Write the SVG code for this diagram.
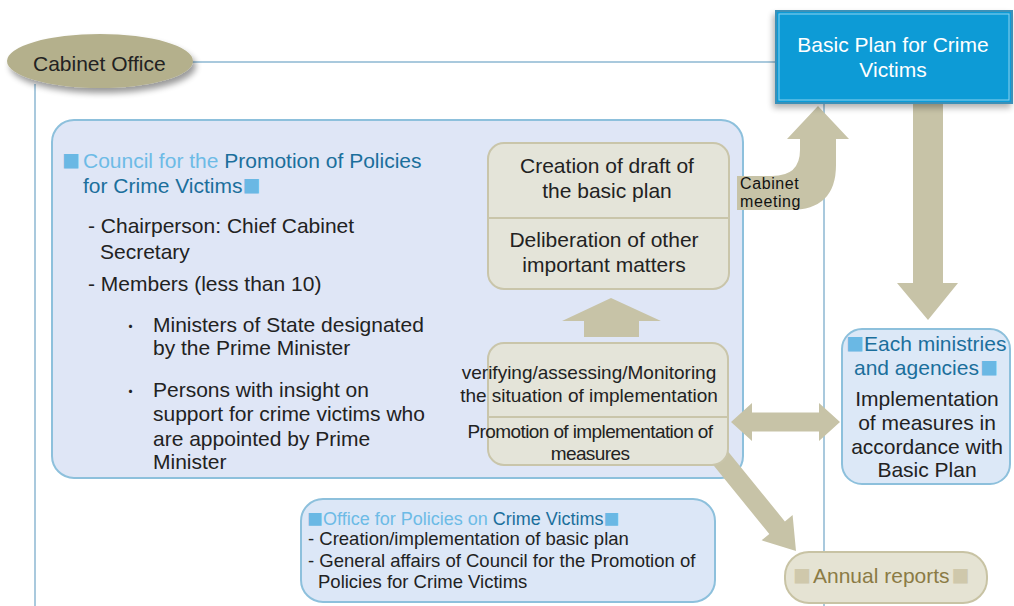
<svg xmlns="http://www.w3.org/2000/svg" width="1014" height="606" viewBox="0 0 1014 606">
<defs>
<filter id="sh" x="-20%" y="-20%" width="140%" height="150%">
<feGaussianBlur in="SourceAlpha" stdDeviation="3"/>
<feOffset dx="3" dy="5" result="b"/>
<feComponentTransfer><feFuncA type="linear" slope="0.4"/></feComponentTransfer>
<feMerge><feMergeNode/><feMergeNode in="SourceGraphic"/></feMerge>
</filter>
<filter id="sh2" x="-10%" y="-10%" width="120%" height="130%">
<feGaussianBlur in="SourceAlpha" stdDeviation="3"/>
<feOffset dx="-2" dy="4" result="b"/>
<feComponentTransfer><feFuncA type="linear" slope="0.3"/></feComponentTransfer>
<feMerge><feMergeNode/><feMergeNode in="SourceGraphic"/></feMerge>
</filter>
</defs>
<style>
text{font-family:"Liberation Sans",Arial,sans-serif;font-size:21px;fill:#222}
.lt{fill:#6dbbe6}
.dk{fill:#1b6f9c}
.sq{fill:#6ab8e4;font-family:"Noto Sans CJK JP","DejaVu Sans",sans-serif;font-size:18px}
.sqk{fill:#cfc8ab;font-family:"Noto Sans CJK JP","DejaVu Sans",sans-serif;font-size:18px}
.blue{fill:#dfe6f6;stroke:#8dc0dc;stroke-width:2}
.beige{fill:#e4e4d9;stroke:#c9c5aa;stroke-width:2}
.arrow{fill:#c7c3a7}
.line{stroke:#a9c9dd;stroke-width:2;fill:none}
.c{text-anchor:middle}
.small{font-size:19px;letter-spacing:-0.6px}
.lbl{font-size:16px;fill:#111;letter-spacing:0.6px}
.ofc{font-size:18.5px}
</style>
<rect width="1014" height="606" fill="#ffffff"/>

<g id="council">
<rect class="blue" x="52" y="120" width="691" height="358" rx="22"/>
<text y="168"><tspan class="sq" x="62">■</tspan><tspan class="lt" x="83">Council for the </tspan><tspan class="dk">Promotion of Policies</tspan></text>
<text y="193"><tspan class="dk" x="83">for Crime Victims</tspan><tspan class="sq">■</tspan></text>
<text x="88" y="233">- Chairperson: Chief Cabinet</text>
<text x="100" y="259">Secretary</text>
<text x="88" y="291">- Members (less than 10)</text>
<text x="123" y="332" style="font-family:'Noto Sans CJK JP',sans-serif;font-size:15px">・</text>
<text x="153" y="332">Ministers of State designated</text>
<text x="153" y="355">by the Prime Minister</text>
<text x="123" y="397" style="font-family:'Noto Sans CJK JP',sans-serif;font-size:15px">・</text>
<text x="153" y="397">Persons with insight on</text>
<text x="153" y="421">support for crime victims who</text>
<text x="153" y="446">are appointed by Prime</text>
<text x="153" y="469">Minister</text>
</g>

<g id="connectors">
<line class="line" x1="190" y1="62" x2="776" y2="62"/>
<line class="line" x1="35" y1="84" x2="35" y2="606"/>
<line class="line" x1="824" y1="103" x2="824" y2="606"/>
<path class="arrow" d="M611 298 L661 321 L639 321 L639 337 L584 337 L584 321 L562 321 Z"/>
<path class="arrow" d="M731 422 L752 403 L752 412.5 L819 412.5 L819 403 L840 422 L819 441 L819 431.5 L752 431.5 L752 441 Z"/>
<path class="arrow" d="M710.2 461.3 L725.8 448.7 L784.9 521.4 L792.6 515.1 L796 551 L761.6 540.3 L769.3 534 Z"/>
<path class="arrow" d="M913 100 L943 100 L943 283 L958 283 L928 320 L897 283 L913 283 Z"/>
<path class="arrow" d="M737 176 L772 176 Q800 176 800 150 L800 139 L787 139 L818 106 L849 139 L836 139 L836 165 Q836 210 790 210 L737 210 Z"/>
<text class="lbl" x="740" y="189">Cabinet</text>
<text class="lbl" x="740" y="207">meeting</text>
</g>

<g id="cabinet-office">
<ellipse cx="100" cy="61" rx="93" ry="27" fill="#b4b08c" filter="url(#sh)"/>
<text x="33" y="71">Cabinet Office</text>
</g>

<g id="basic-plan">
<rect x="776" y="11" width="236" height="92" fill="#0a9bd6" stroke="#3a90b8" stroke-width="2" filter="url(#sh2)"/>
<rect x="779" y="14" width="230" height="86" fill="none" stroke="#8fd3ef" stroke-width="1"/>
<text class="c" x="893" y="52" style="fill:#ffffff">Basic Plan for Crime</text>
<text class="c" x="893" y="77" style="fill:#ffffff">Victims</text>
</g>

<g id="draft">
<rect class="beige" x="488" y="143" width="241" height="146" rx="16"/>
<line x1="488" y1="218" x2="729" y2="218" stroke="#c9c5aa" stroke-width="2"/>
<text class="c" x="607" y="173">Creation of draft of</text>
<text class="c" x="607" y="198">the basic plan</text>
<text class="c" x="604" y="247">Deliberation of other</text>
<text class="c" x="604" y="272">important matters</text>
</g>

<g id="monitoring">
<rect class="beige" x="488" y="343" width="240" height="122" rx="16"/>
<line x1="488" y1="417" x2="728" y2="417" stroke="#c9c5aa" stroke-width="2"/>
<text class="c" x="589" y="379" style="font-size:19px">verifying/assessing/Monitoring</text>
<text class="c" x="589" y="402" style="font-size:19px">the situation of implementation</text>
<text class="c small" x="590" y="438">Promotion of implementation of</text>
<text class="c small" x="590" y="460">measures</text>
</g>

<g id="ministries">
<rect class="blue" x="842" y="329" width="168" height="155" rx="20" style="fill:#dce8f7"/>
<text y="351"><tspan class="sq" x="846">■</tspan><tspan class="dk" x="864">Each ministries</tspan></text>
<text y="375"><tspan class="dk" x="854">and agencies</tspan><tspan class="sq" dx="1">■</tspan></text>
<text class="c" x="927" y="406">Implementation</text>
<text class="c" x="927" y="430">of measures in</text>
<text class="c" x="927" y="454">accordance with</text>
<text class="c" x="927" y="477">Basic Plan</text>
</g>

<g id="office">
<rect class="blue" x="301" y="499" width="414" height="103" rx="22" style="fill:#dce7f7"/>
<text y="525" style="font-size:18px"><tspan class="sq" x="307" style="font-size:16px">■</tspan><tspan class="lt" x="323">Office for Policies on </tspan><tspan class="dk">Crime Victims</tspan><tspan class="sq" style="font-size:16px">■</tspan></text>
<text class="ofc" x="308" y="545">- Creation/implementation of basic plan</text>
<text class="ofc" x="308" y="567">- General affairs of Council for the Promotion of</text>
<text class="ofc" x="318" y="588">Policies for Crime Victims</text>
</g>

<g id="annual-reports">
<rect x="785" y="552" width="202" height="51" rx="24" fill="#e5e3d3" stroke="#c8c3a4" stroke-width="2"/>
<text y="583"><tspan class="sqk" x="793">■</tspan><tspan x="813" style="fill:#8b7b45">Annual reports</tspan><tspan class="sqk" dx="2">■</tspan></text>
</g>
</svg>
